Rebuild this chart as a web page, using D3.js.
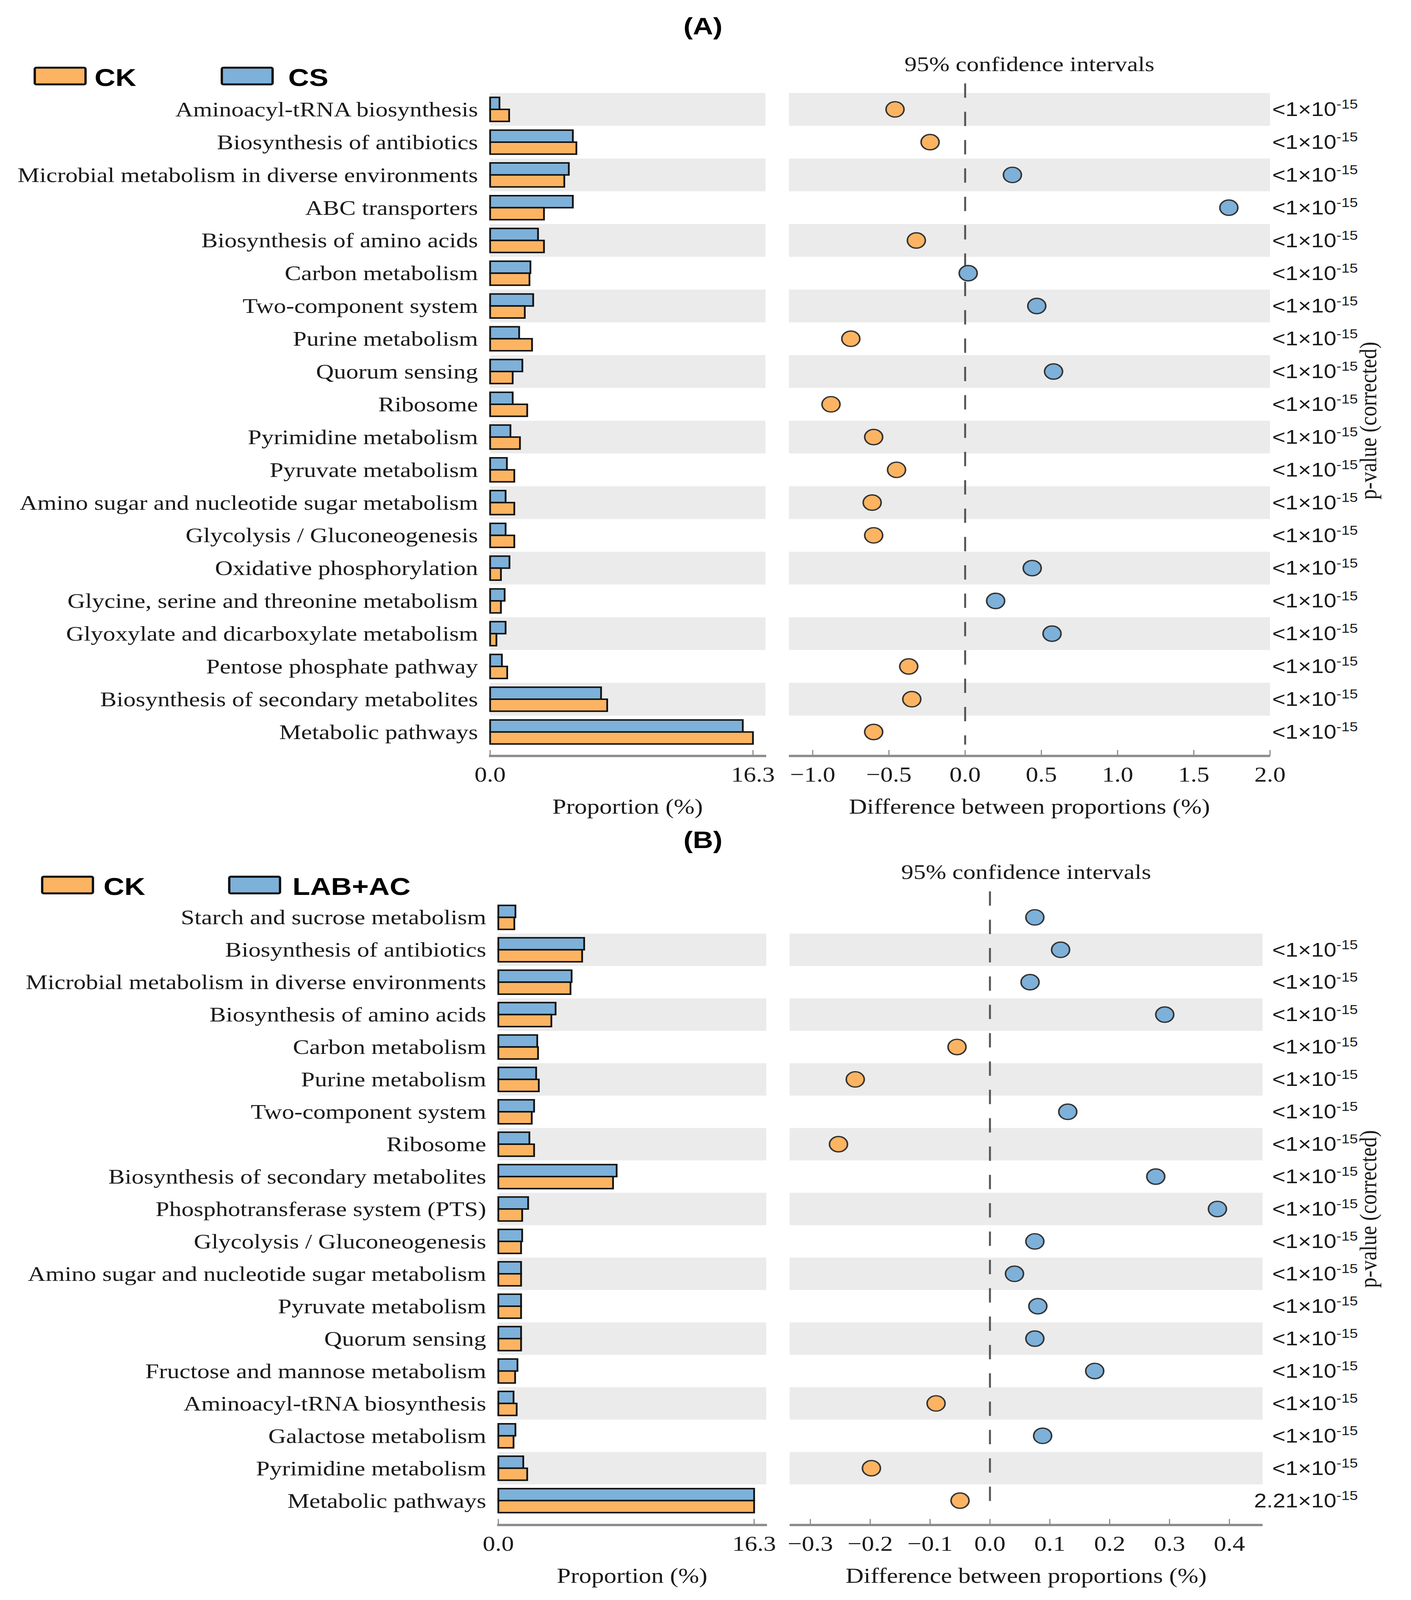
<!DOCTYPE html>
<html>
<head>
<meta charset="utf-8">
<script src="https://cdn.jsdelivr.net/npm/d3@7"></script>
<style>
  html, body { margin: 0; padding: 0; width: 100%; height: 100%; overflow: hidden; background: #fff; }
  .stamp-chart { width: 100vw; height: 100vh; }
  .stamp-chart svg { display: block; }
</style>
</head>
<body>
<div class="stamp-chart"></div>
<script>
// ---- panel A: CK vs CS ----
const pathwaysA = [
  "Aminoacyl-tRNA biosynthesis", "Biosynthesis of antibiotics",
  "Microbial metabolism in diverse environments", "ABC transporters",
  "Biosynthesis of amino acids", "Carbon metabolism", "Two-component system",
  "Purine metabolism", "Quorum sensing", "Ribosome", "Pyrimidine metabolism",
  "Pyruvate metabolism", "Amino sugar and nucleotide sugar metabolism",
  "Glycolysis / Gluconeogenesis", "Oxidative phosphorylation",
  "Glycine, serine and threonine metabolism", "Glyoxylate and dicarboxylate metabolism",
  "Pentose phosphate pathway", "Biosynthesis of secondary metabolites", "Metabolic pathways"
];
const ckA = [1.18, 5.35, 4.6, 3.34, 3.34, 2.44, 2.15, 2.6, 1.4, 2.3, 1.85, 1.5, 1.5, 1.5, 0.67, 0.67, 0.39, 1.06, 7.26, 16.3];
const csA = [0.58, 5.13, 4.88, 5.13, 2.97, 2.5, 2.67, 1.8, 2.0, 1.4, 1.26, 1.04, 0.96, 0.96, 1.2, 0.9, 0.96, 0.73, 6.88, 15.67];
const diffA = [-0.46, -0.23, 0.31, 1.73, -0.32, 0.02, 0.47, -0.75, 0.58, -0.88, -0.6, -0.45, -0.61, -0.6, 0.44, 0.2, 0.57, -0.37, -0.35, -0.6];
const pvalA = pathwaysA.map(() => "<1×10^-15");
const diffTicksA = [-1.0, -0.5, 0.0, 0.5, 1.0, 1.5, 2.0];

// ---- panel B: CK vs LAB+AC ----
const pathwaysB = [
  "Starch and sucrose metabolism", "Biosynthesis of antibiotics",
  "Microbial metabolism in diverse environments", "Biosynthesis of amino acids",
  "Carbon metabolism", "Purine metabolism", "Two-component system", "Ribosome",
  "Biosynthesis of secondary metabolites", "Phosphotransferase system (PTS)",
  "Glycolysis / Gluconeogenesis", "Amino sugar and nucleotide sugar metabolism",
  "Pyruvate metabolism", "Quorum sensing", "Fructose and mannose metabolism",
  "Aminoacyl-tRNA biosynthesis", "Galactose metabolism", "Pyrimidine metabolism",
  "Metabolic pathways"
];
const ckB = [1.02, 5.34, 4.6, 3.38, 2.53, 2.58, 2.13, 2.28, 7.31, 1.52, 1.45, 1.45, 1.45, 1.45, 1.07, 1.17, 0.97, 1.84, 16.3];
const labB = [1.09, 5.47, 4.67, 3.65, 2.48, 2.41, 2.28, 1.98, 7.54, 1.9, 1.52, 1.45, 1.45, 1.45, 1.22, 0.97, 1.09, 1.59, 16.3];
const diffB = [0.075, 0.118, 0.067, 0.292, -0.055, -0.225, 0.13, -0.253, 0.277, 0.38, 0.075, 0.041, 0.08, 0.075, 0.175, -0.09, 0.088, -0.198, -0.05];
const pvalB = [null,
  "<1×10^-15", "<1×10^-15", "<1×10^-15", "<1×10^-15", "<1×10^-15", "<1×10^-15",
  "<1×10^-15", "<1×10^-15", "<1×10^-15", "<1×10^-15", "<1×10^-15", "<1×10^-15",
  "<1×10^-15", "<1×10^-15", "<1×10^-15", "<1×10^-15", "<1×10^-15", "2.21×10^-15"];
const diffTicksB = [-0.3, -0.2, -0.1, 0.0, 0.1, 0.2, 0.3, 0.4];

const propTicks = [0, 16.3];

const W = 3613, H = 4798;
const ORANGE = "#FDB462", BLUE = "#7DB1DA";
const SERIF = "'Liberation Serif', 'Times New Roman', serif";
const SANS = "'Liberation Sans', Arial, sans-serif";
const AXIS_GRAY = "#8c8c8c";

// the drawing is laid out in a 3613 x 4798 frame and stretched to the window
const svg = d3.select(".stamp-chart")
  .append("svg")
  .attr("viewBox", `0 0 ${W} ${H}`)
  .attr("preserveAspectRatio", "none")
  .attr("width", "100%")
  .attr("height", "100%")
  .style("background", "#fff");

const fmt = d3.format(".1f");

const drawPanel = (svg, p) => {
  const n = p.pathways.length;
  const y = d3.scalePoint().domain(p.pathways).range([p.rowTop, p.rowBottom]);
  const step = y.step();
  const barH = 36;
  const xProp = d3.scaleLinear().domain([0, 16.3]).range(p.propRange);
  const xDiff = d3.scaleLinear().domain(d3.extent(p.diffTicks)).range(p.diffRange);

  const rows = p.pathways.map((name, i) => ({
    name, i, ck: p.ck[i], tr: p.treat[i], diff: p.diff[i], pval: p.pval[i]
  }));

  const g = svg.append("g");

  // panel letter
  g.append("text")
    .attr("x", 1800).attr("y", p.titleY)
    .attr("text-anchor", "middle")
    .style("font-family", SANS).style("font-weight", "bold").style("font-size", "72px")
    .text(p.letter);

  // legend
  const legend = [
    { label: "CK", color: ORANGE, sx: p.legendX[0], tx: p.legendTextX[0] },
    { label: p.treatName, color: BLUE, sx: p.legendX[1], tx: p.legendTextX[1] }
  ];
  const lg = g.selectAll(".legend").data(legend).enter().append("g");
  lg.append("rect")
    .attr("x", d => d.sx).attr("y", p.legendY - 25)
    .attr("width", 130).attr("height", 50).attr("rx", 4)
    .attr("fill", d => d.color).attr("stroke", "#111").attr("stroke-width", 6);
  lg.append("text")
    .attr("x", d => d.tx).attr("y", p.legendY + 30)
    .style("font-family", SANS).style("font-weight", "bold").style("font-size", "74px")
    .text(d => d.label);

  // alternating grey rows, counted from the bottom row
  const striped = rows.filter(d => (n - 1 - d.i) % 2 === 1);
  g.selectAll(".band-l").data(striped).enter().append("rect")
    .attr("x", xProp(0)).attr("width", p.propBandEnd - xProp(0))
    .attr("y", d => y(d.name) - step / 2).attr("height", step)
    .attr("fill", "#ebebeb");
  g.selectAll(".band-r").data(striped).enter().append("rect")
    .attr("x", p.diffBand[0]).attr("width", p.diffBand[1] - p.diffBand[0])
    .attr("y", d => y(d.name) - step / 2).attr("height", step)
    .attr("fill", "#ebebeb");

  // zero line
  g.append("line")
    .attr("x1", xDiff(0)).attr("x2", xDiff(0))
    .attr("y1", p.rowTop - 78).attr("y2", p.axisY - 34)
    .attr("stroke", "#555").attr("stroke-width", 5)
    .attr("stroke-dasharray", "43,42");

  // difference dots
  g.selectAll(".dot").data(rows).enter().append("circle")
    .attr("cx", d => xDiff(d.diff)).attr("cy", d => y(d.name))
    .attr("r", 23)
    .attr("fill", d => d.diff >= 0 ? BLUE : ORANGE)
    .attr("stroke", "#333").attr("stroke-width", 4);

  // proportion bars: treatment on top, CK below
  g.selectAll(".bar-tr").data(rows).enter().append("rect")
    .attr("x", xProp(0)).attr("y", d => y(d.name) - barH)
    .attr("width", d => xProp(d.tr) - xProp(0)).attr("height", barH)
    .attr("fill", BLUE).attr("stroke", "#111").attr("stroke-width", 4.5);
  g.selectAll(".bar-ck").data(rows).enter().append("rect")
    .attr("x", xProp(0)).attr("y", d => y(d.name))
    .attr("width", d => xProp(d.ck) - xProp(0)).attr("height", barH)
    .attr("fill", ORANGE).attr("stroke", "#111").attr("stroke-width", 4.5);

  // row labels
  g.selectAll(".label").data(rows).enter().append("text")
    .attr("x", xProp(0) - 31).attr("y", d => y(d.name) + 21)
    .attr("text-anchor", "end")
    .attr("fill", "#1a1a1a")
    .style("font-family", SERIF).style("font-size", "63px")
    .text(d => d.name);

  // p-values
  const pv = g.selectAll(".pval").data(rows.filter(d => d.pval)).enter().append("text")
    .attr("x", 3477).attr("y", d => y(d.name) + 20)
    .attr("text-anchor", "end")
    .attr("fill", "#1a1a1a")
    .style("font-family", SANS).style("font-size", "58px");
  pv.append("tspan").text(d => d.pval.split("^")[0]);
  pv.append("tspan").attr("dy", -22).style("font-size", "38px").text(d => d.pval.split("^")[1]);

  g.append("text")
    .attr("transform", `translate(3524,${(p.rowTop + p.rowBottom) / 2}) rotate(-90)`)
    .attr("text-anchor", "middle")
    .attr("fill", "#1a1a1a")
    .style("font-family", SERIF).style("font-size", "62px")
    .text("p-value (corrected)");

  // confidence interval header
  g.append("text")
    .attr("x", (p.diffBand[0] + p.diffBand[1]) / 2).attr("y", p.ciY)
    .attr("text-anchor", "middle")
    .attr("fill", "#1a1a1a")
    .style("font-family", SERIF).style("font-size", "63px")
    .text("95% confidence intervals");

  // axes
  const axes = [
    { scale: xProp, ticks: propTicks, x1: xProp(0) - 3, x2: p.propBandEnd + 2, title: "Proportion (%)" },
    { scale: xDiff, ticks: p.diffTicks, x1: p.diffBand[0], x2: p.diffBand[1], title: "Difference between proportions (%)" }
  ];
  axes.forEach(a => {
    const ag = g.append("g");
    ag.append("line")
      .attr("x1", a.x1).attr("x2", a.x2)
      .attr("y1", p.axisY).attr("y2", p.axisY)
      .attr("stroke", AXIS_GRAY).attr("stroke-width", 7);
    ag.selectAll(".tick").data(a.ticks).enter().append("line")
      .attr("x1", d => a.scale(d)).attr("x2", d => a.scale(d))
      .attr("y1", p.axisY).attr("y2", p.axisY - 18)
      .attr("stroke", AXIS_GRAY).attr("stroke-width", 3);
    ag.selectAll(".tick-label").data(a.ticks).enter().append("text")
      .attr("x", d => a.scale(d)).attr("y", p.axisY + 77)
      .attr("text-anchor", "middle")
      .attr("fill", "#1a1a1a")
      .style("font-family", SERIF).style("font-size", "64px")
      .text(d => fmt(d));
    ag.append("text")
      .attr("x", (a.x1 + a.x2) / 2).attr("y", p.axisY + 173)
      .attr("text-anchor", "middle")
      .attr("fill", "#1a1a1a")
      .style("font-family", SERIF).style("font-size", "64px")
      .text(a.title);
  });
};

drawPanel(svg, {
  letter: "(A)", treatName: "CS",
  pathways: pathwaysA, ck: ckA, treat: csA, diff: diffA, pval: pvalA, diffTicks: diffTicksA,
  titleY: 103, legendY: 228, legendX: [89, 568], legendTextX: [242, 738],
  ciY: 213, rowTop: 328, rowBottom: 2195, axisY: 2267,
  propRange: [1255, 1928], propBandEnd: 1960,
  diffRange: [2081, 3252], diffBand: [2020, 3252]
});

drawPanel(svg, {
  letter: "(B)", treatName: "LAB+AC",
  pathways: pathwaysB, ck: ckB, treat: labB, diff: diffB, pval: pvalB, diffTicks: diffTicksB,
  titleY: 2543, legendY: 2654, legendX: [108, 587], legendTextX: [265, 749],
  ciY: 2636, rowTop: 2751, rowBottom: 4500, axisY: 4573,
  propRange: [1276, 1931], propBandEnd: 1962,
  diffRange: [2075, 3148], diffBand: [2022, 3233]
});
</script>
</body>
</html>
